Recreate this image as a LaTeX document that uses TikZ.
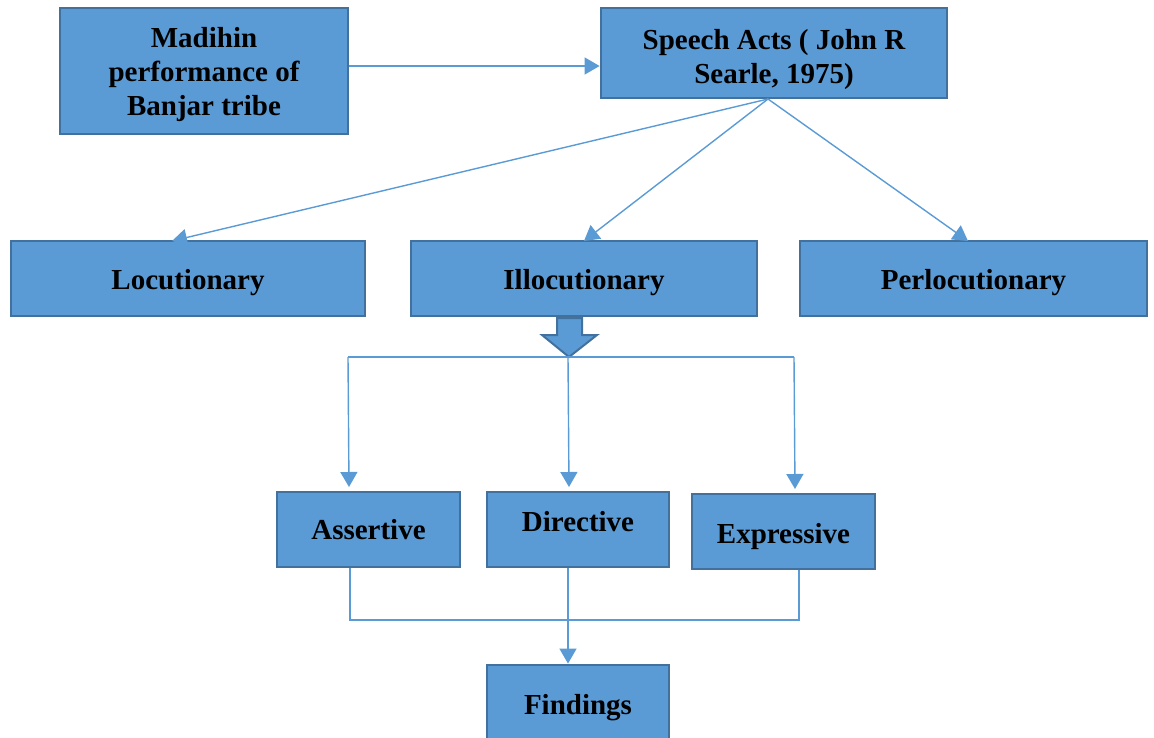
\documentclass[tikz,border=0pt]{standalone}
\usepackage{fontspec}
\setmainfont{Liberation Serif}
\usetikzlibrary{arrows.meta}

\definecolor{boxblue}{HTML}{5B9BD5}
\definecolor{boxedge}{HTML}{41719C}

% lower the text inside a box, keeping its size
\newcommand\boxtext[2][4pt]{\raisebox{-#1}[\height][\depth]{\begin{tabular}{@{}c@{}}#2\end{tabular}}}

\tikzset{
  box/.style={draw=boxedge, line width=2.8pt, fill=boxblue, align=center,
    font=\fontsize{29}{34}\selectfont\bfseries, inner sep=0pt},
  arr/.style={draw=boxblue, line width=1.4pt, -{Triangle[width=17pt,length=15pt]}},
  line/.style={draw=boxblue, line width=1.4pt}
}

\begin{document}
\begin{tikzpicture}[x=1pt, y=-1pt]
  % keep the page size
  \useasboundingbox (0,0) rectangle (1154,738);

  % top row
  \node[box, minimum width=288pt, minimum height=126pt] (mad) at (204,71) {\boxtext{Madihin\\performance of\\Banjar tribe}};
  \node[box, minimum width=346pt, minimum height=90pt] (speech) at (774,53) {\boxtext[7pt]{Speech Acts ( John R\\Searle, 1975)}};

  % three kinds of acts
  \node[box, minimum width=354pt, minimum height=75pt] (loc) at (188,278.5) {\boxtext{Locutionary}};
  \node[box, minimum width=346pt, minimum height=75pt] (ill) at (584,278.5) {\boxtext{Illocutionary}};
  \node[box, minimum width=347pt, minimum height=75pt] (per) at (973.5,278.5) {\boxtext{Perlocutionary}};

  % illocutionary types
  \node[box, minimum width=183pt, minimum height=75pt] (ass) at (368.5,529.5) {\boxtext[3pt]{Assertive}};
  \node[box, minimum width=182pt, minimum height=75pt] (dir) at (578,529.5) {\boxtext[-5pt]{Directive}};
  \node[box, minimum width=183pt, minimum height=75pt] (exp) at (783.5,531.5) {\boxtext[5pt]{Expressive}};

  \node[box, minimum width=182pt, minimum height=82pt] (fin) at (578,706) {\boxtext[2pt]{Findings}};

  % connectors
  \coordinate (sbot) at (768,99);
  \draw[arr] (mad.east |- 0,66) -- (speech.west |- 0,66);
  \draw[arr] (sbot) -- (172,241);
  \draw[arr] (sbot) -- (584,241);
  \draw[arr] (sbot) -- (968,241);

  % block arrow under Illocutionary
  \draw[draw=boxedge, line width=2pt, fill=boxblue, line join=miter]
    (557,318) -- (582,318) -- (582,335) -- (597,335) -- (569,357) -- (542,335) -- (557,335) -- cycle;

  \coordinate (split) at (568,357);
  \coordinate (sl) at (348,357);
  \coordinate (sr) at (794,357);
  \draw[line] (sl) -- (sr);
  \draw[arr] (sl) -- (349,487);
  \draw[arr] (split) -- (569,487);
  \draw[arr] (sr) -- (795,489);

  % join to findings
  \coordinate (jl) at (350,620);
  \coordinate (jr) at (799,620);
  \draw[line] (ass.south -| jl) -- (jl) -- (jr) -- (jr |- exp.south);
  \draw[arr] (dir.south -| 568,0) -- (fin.north -| 568,0);
\end{tikzpicture}
\end{document}
